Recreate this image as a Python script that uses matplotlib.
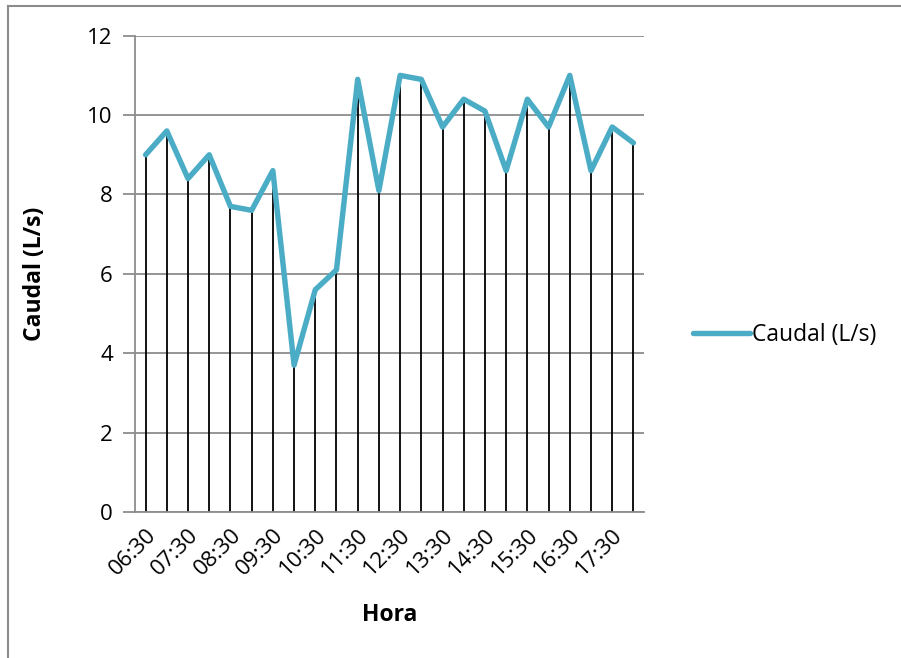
import numpy as np
import matplotlib.pyplot as plt
from matplotlib.lines import Line2D

# hourly readings every half hour
horas = ["06:30", "07:00", "07:30", "08:00", "08:30", "09:00", "09:30", "10:00",
         "10:30", "11:00", "11:30", "12:00", "12:30", "13:00", "13:30", "14:00",
         "14:30", "15:00", "15:30", "16:00", "16:30", "17:00", "17:30", "18:00"]
caudal = [9.0, 9.6, 8.4, 9.0, 7.7, 7.6, 8.6, 3.7, 5.6, 6.1, 10.9, 8.1,
          11.0, 10.9, 9.7, 10.4, 10.1, 8.6, 10.4, 9.7, 11.0, 8.6, 9.7, 9.3]
y_ticks = [0, 2, 4, 6, 8, 10, 12]

plt.rcParams['font.family'] = ['Open Sans', 'DejaVu Sans']

W, H = 901, 658
fig = plt.figure(figsize=(W / 100, H / 100), dpi=100)

# outer frame (left and top edges)
fig.add_artist(Line2D([7.5 / W, 7.5 / W], [0, 1 - 6 / H], color="#8c8c8c", lw=1.5))
fig.add_artist(Line2D([7.5 / W, 1], [1 - 6 / H, 1 - 6 / H], color="#8c8c8c", lw=1.5))

ax = fig.add_axes([135 / W, (H - 512) / H, 509 / W, (512 - 35.7) / H])

x = np.arange(len(horas))
ax.vlines(x, 0, caudal, color="black", lw=1.3, zorder=2)
ax.plot(x, caudal, color="#4BACC6", lw=3.9, solid_joinstyle="round",
        solid_capstyle="round", zorder=3, label="Caudal (L/s)")

ax.set_xlim(-0.5, len(horas) - 0.5)
ax.set_ylim(0, 12)
ax.set_yticks(y_ticks)
ax.grid(axis="y", color="#8c8c8c", lw=1.3)
ax.set_axisbelow(True)

for s in ["top", "right"]:
    ax.spines[s].set_visible(False)
for s in ["left", "bottom"]:
    ax.spines[s].set_color("#8c8c8c")
    ax.spines[s].set_linewidth(1.3)

ax.tick_params(axis="y", direction="out", length=9, width=1.3, color="#8c8c8c",
               labelsize=16, pad=7)
ax.set_xticks(x[::2])
ax.set_xticklabels(horas[::2], rotation=45, ha="right", rotation_mode="anchor",
                   fontsize=16)
ax.tick_params(axis="x", length=0, pad=9)

ax.set_xlabel("Hora", fontsize=16.5, fontweight="bold", labelpad=17)
ax.set_ylabel("Caudal (L/s)", fontsize=16.5, fontweight="bold", labelpad=29)

fig.legend(handles=ax.get_lines(), loc="center left",
           bbox_to_anchor=(672 / W, 1 - 335 / H), frameon=False, fontsize=16.5,
           handlelength=2.5, handletextpad=0.1)

plt.savefig("out.png", dpi=100)
